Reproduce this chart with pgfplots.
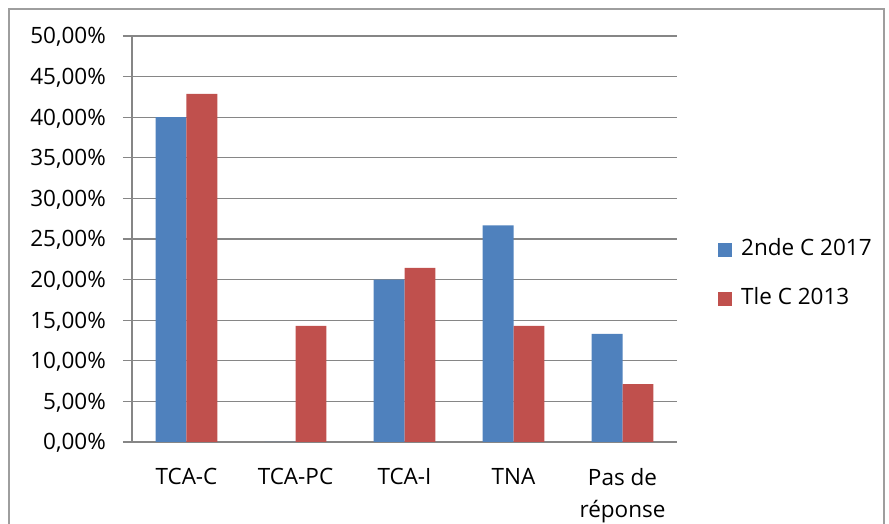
\documentclass[border=0pt]{standalone}
\usepackage{pgfplots}
\pgfplotsset{compat=1.18}
\usepackage{fontspec}
\setmainfont{Open Sans}
\definecolor{sblue}{HTML}{4F81BD}
\definecolor{sred}{HTML}{C0504D}
\definecolor{gridg}{HTML}{868686}
\begin{document}
\begin{tikzpicture}[x=1pt,y=1pt]
\begin{axis}[
  name=ax,
  at={(0,0)}, anchor=south west,
  scale only axis, width=545pt, height=406pt,
  ymin=0, ymax=50, ytick={0,5,...,50},
  xmin=-0.5, xmax=4.5,
  ybar=0pt, bar width=0.284,
  axis line style={gridg,line width=1.3pt},
  axis x line*=bottom, axis y line*=left,
  ymajorgrids, grid style={gridg,line width=1.3pt},
  xtick={0,...,4},
  xticklabels={TCA-C,TCA-PC,TCA-I,TNA,{Pas de\\réponse}},
  minor xtick={-0.5,0.5,...,4.5},
  xtick style={draw=none},
  minor tick style={gridg,line width=1.3pt},
  minor tick length=8pt,
  ytick style={gridg,line width=1.3pt},
  major tick length=9pt,
  tick align=outside,
  /pgf/number format/assume math mode=true,
  yticklabel={\pgfmathprintnumber[fixed,fixed zerofill,precision=2,use comma]{\tick}\%},
  tick label style={font=\fontsize{22.5}{32}\selectfont, text=black, inner sep=0pt},
  xticklabel style={align=center, anchor=north, yshift=-17pt},
  yticklabel style={anchor=east, text height=16pt, text depth=0pt, xshift=-17pt},
  legend style={at={(axis description cs:1,0.4126)}, anchor=west, xshift=41pt,
    draw=none, fill=none, font=\fontsize{22.5}{27}\selectfont, inner sep=0pt,
    nodes={inner sep=0pt, text height=16pt, text depth=5pt},
    row sep=28pt, legend cell align=left,
    /tikz/every odd column/.append style={column sep=9pt}},
  legend image code/.code={\fill[#1] (0pt,-7pt) rectangle (14pt,7pt);},
]
\addplot[fill=sblue, draw=none] coordinates {(0,40.00) (1,0) (2,20.00) (3,26.67) (4,13.33)};
\addplot[fill=sred, draw=none] coordinates {(0,42.86) (1,14.29) (2,21.43) (3,14.29) (4,7.14)};
\legend{2nde C 2017, Tle C 2013}
\end{axis}
\pgfresetboundingbox
\path[use as bounding box] (-132,-82) rectangle (757,442);
\draw[gridg!80,line width=1.3pt] (-123,-90) -- (-123,433) -- (752,433) -- (752,-90);
\end{tikzpicture}
\end{document}
